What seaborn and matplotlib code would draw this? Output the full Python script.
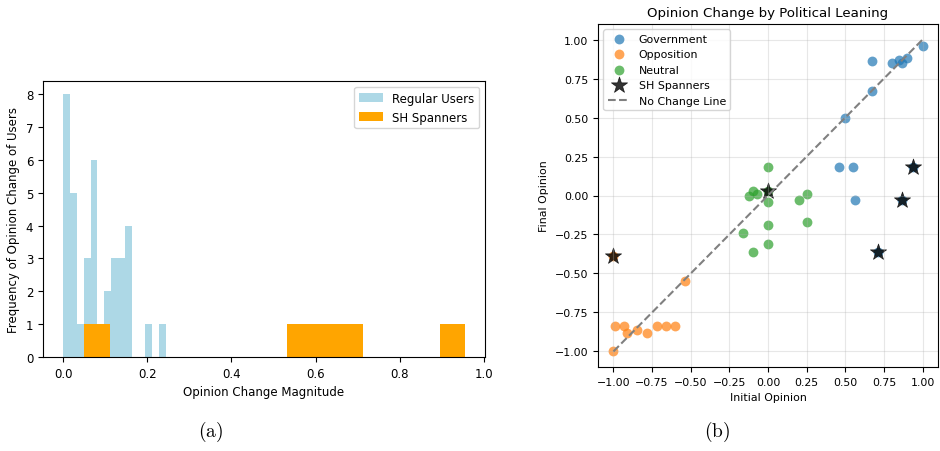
import numpy as np
import matplotlib
matplotlib.use("Agg")
import matplotlib.pyplot as plt
import seaborn as sns

# (a) histogram: counts per bin, 15 bins over each group's range
regular_range = (0.0, 0.2444)
regular_counts = [8, 5, 1, 3, 6, 0, 2, 3, 3, 4, 0, 0, 1, 0, 1]
spanner_range = (0.05, 0.955)
spanner_counts = [1, 0, 0, 0, 0, 0, 0, 0, 1, 1, 1, 0, 0, 0, 1]

# (b) scatter: initial vs final opinion
gov_init = [0.67, 0.80, 0.85, 0.87, 0.90, 1.00, 0.67, 0.50, 0.46, 0.55, 0.56, 0.94, 0.87, 0.71]
gov_final = [0.86, 0.85, 0.87, 0.85, 0.88, 0.96, 0.67, 0.50, 0.18, 0.18, -0.03, 0.18, -0.03, -0.36]
opp_init = [-1.00, -0.99, -0.93, -0.91, -0.85, -0.78, -0.72, -0.66, -0.60, -0.54, -1.00]
opp_final = [-1.00, -0.84, -0.84, -0.88, -0.86, -0.88, -0.84, -0.84, -0.84, -0.55, -0.39]
neu_init = [0.00, -0.10, -0.12, -0.07, 0.00, 0.20, 0.25, 0.25, 0.00, 0.00, -0.10, -0.16, 0.00]
neu_final = [0.18, 0.03, 0.00, 0.01, -0.04, -0.03, 0.01, -0.17, -0.19, -0.31, -0.36, -0.24, 0.03]
sh_init = [0.94, 0.87, 0.71, 0.00, -1.00]
sh_final = [0.18, -0.03, -0.36, 0.03, -0.39]

plt.rcParams["font.size"] = 8.5
plt.rcParams["mathtext.fontset"] = "cm"

fig = plt.figure(figsize=(9.4, 4.52), dpi=100)
ax1 = fig.add_axes([43 / 940, 94 / 452, 442 / 940, 276 / 452])
ax2 = fig.add_axes([598 / 940, 84 / 452, 340 / 940, 343 / 452])


def centers(rng, n):
    edges = np.linspace(rng[0], rng[1], n + 1)
    return (edges[:-1] + edges[1:]) / 2


sns.histplot(
    x=centers(regular_range, len(regular_counts)),
    weights=regular_counts,
    bins=len(regular_counts),
    binrange=regular_range,
    color="lightblue",
    alpha=1,
    linewidth=0,
    label="Regular Users",
    ax=ax1,
)
sns.histplot(
    x=centers(spanner_range, len(spanner_counts)),
    weights=spanner_counts,
    bins=len(spanner_counts),
    binrange=spanner_range,
    color="orange",
    alpha=1,
    linewidth=0,
    label="SH Spanners",
    ax=ax1,
)
ax1.set_xlabel("Opinion Change Magnitude")
ax1.set_ylabel("Frequency of Opinion Change of Users")
ax1.legend(loc="upper right")

# right panel uses slightly smaller text
fs = 7.9
groups = [
    ("Government", gov_init, gov_final, "tab:blue"),
    ("Opposition", opp_init, opp_final, "tab:orange"),
    ("Neutral", neu_init, neu_final, "tab:green"),
]
for name, xi, yf, col in groups:
    sns.scatterplot(x=xi, y=yf, color=col, s=50, alpha=0.7, linewidth=0, label=name, ax=ax2)

sns.scatterplot(
    x=sh_init, y=sh_final, marker="*", color="black", s=150, alpha=0.8,
    edgecolor="black", linewidth=0.5, label="SH Spanners", ax=ax2,
)
sns.lineplot(x=[-1, 1], y=[-1, 1], color="gray", linestyle="--", label="No Change Line", ax=ax2)

ax2.set_title("Opinion Change by Political Leaning", fontsize=9.6)
ax2.set_xlabel("Initial Opinion", fontsize=fs)
ax2.set_ylabel("Final Opinion", fontsize=fs)
ax2.tick_params(labelsize=fs)
ax2.grid(True, alpha=0.3)
ax2.legend(loc="upper left", fontsize=fs)

fig.text(211 / 940, 20 / 452, r"$\mathrm{(a)}$", fontsize=14, ha="center", va="center")
fig.text(717 / 940, 20 / 452, r"$\mathrm{(b)}$", fontsize=14, ha="center", va="center")

fig.savefig("out.png", dpi=100)
